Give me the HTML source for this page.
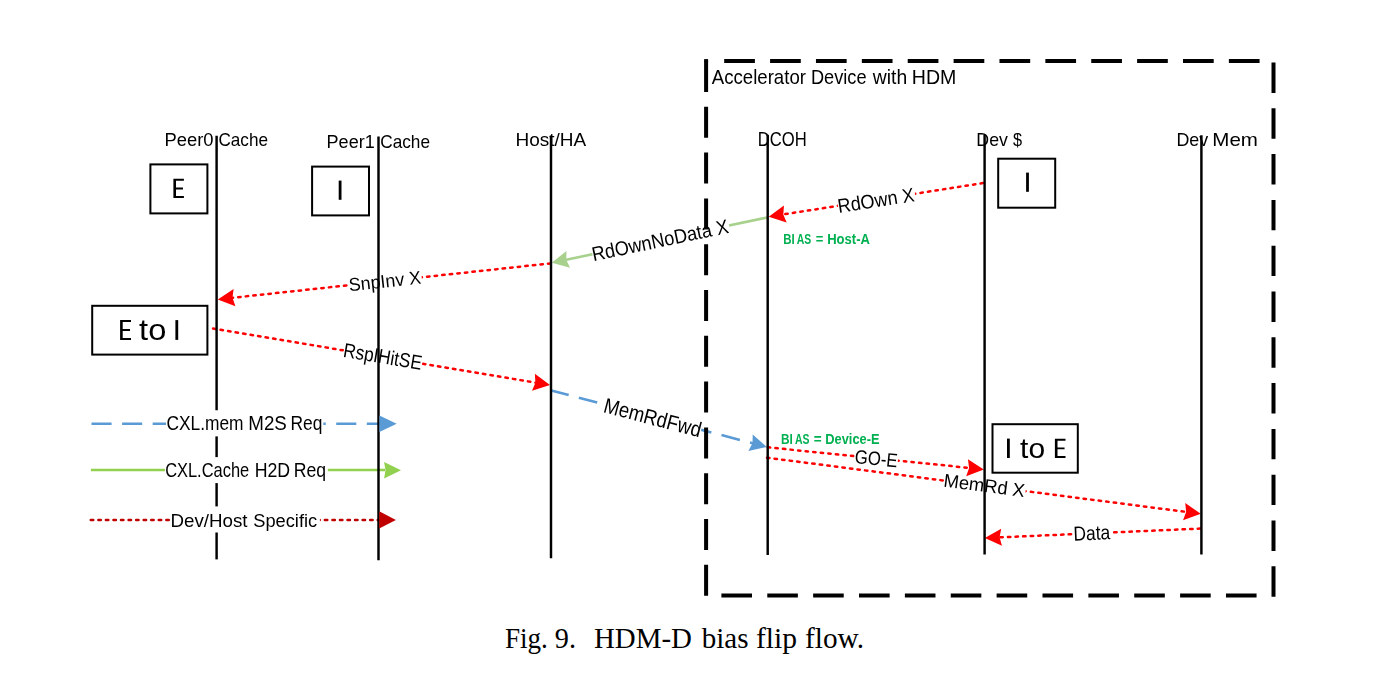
<!DOCTYPE html>
<html><head><meta charset="utf-8"><title>HDM-D bias flip flow</title>
<style>html,body{margin:0;padding:0;background:#fff;overflow:hidden;} svg{display:block;} svg.d{will-change:transform;}</style>
</head><body>
<svg class="d" width="1378" height="608" viewBox="0 0 1378 608">
<rect x="0" y="0" width="1378" height="676" fill="#fff"/>
<line x1="982.90" y1="183.10" x2="778.58" y2="215.15" stroke="#FF0000" stroke-width="2.5" stroke-dasharray="2.45 5.15" stroke-linecap="round"/>
<line x1="767.30" y1="217.50" x2="561.59" y2="260.74" stroke="#A9D18E" stroke-width="2.6"/>
<line x1="550.40" y1="263.40" x2="227.74" y2="298.32" stroke="#FF0000" stroke-width="2.5" stroke-dasharray="2.45 5.15" stroke-linecap="round"/>
<line x1="213.10" y1="328.50" x2="540.14" y2="383.44" stroke="#FF0000" stroke-width="2.5" stroke-dasharray="2.45 5.15" stroke-linecap="round"/>
<line x1="550.30" y1="390.20" x2="757.13" y2="444.46" stroke="#5B9BD5" stroke-width="2.6" stroke-dasharray="19 10.5"/>
<line x1="767.80" y1="447.30" x2="973.85" y2="468.38" stroke="#FF0000" stroke-width="2.5" stroke-dasharray="2.45 5.15" stroke-linecap="round"/>
<line x1="767.00" y1="457.70" x2="1190.88" y2="512.52" stroke="#FF0000" stroke-width="2.5" stroke-dasharray="2.45 5.15" stroke-linecap="round"/>
<line x1="1200.20" y1="528.60" x2="994.79" y2="537.56" stroke="#FF0000" stroke-width="2.5" stroke-dasharray="2.45 5.15" stroke-linecap="round"/>
<g transform="translate(876.50,200.00) rotate(-8.915)"><rect x="-38.94" y="-7" width="77.89" height="14" fill="#fff"/></g>
<g transform="translate(876.50,200.00) rotate(-8.915)"><text font-family="'Liberation Sans', sans-serif" font-size="19.737" x="-1.542" y="0" transform="translate(-37.945,7.093) scale(0.9176,1)">RdOwn X</text></g>
<g transform="translate(660.75,239.75) rotate(-11.871)"><rect x="-69.83" y="-7" width="139.66" height="14" fill="#fff"/></g>
<g transform="translate(660.75,239.75) rotate(-11.871)"><text font-family="'Liberation Sans', sans-serif" font-size="20.080" x="-1.569" y="0" transform="translate(-68.831,7.216) scale(0.9043,1)">RdOwnNoData X</text></g>
<g transform="translate(385.25,283.00) rotate(-6.178)"><rect x="-36.84" y="-7" width="73.68" height="14" fill="#fff"/></g>
<g transform="translate(385.25,283.00) rotate(-6.178)"><text font-family="'Liberation Sans', sans-serif" font-size="18.455" x="-0.577" y="0" transform="translate(-35.842,4.469) scale(0.9672,1)">SnpInv X</text></g>
<g transform="translate(382.75,358.25) rotate(9.537)"><rect x="-39.65" y="-7" width="79.30" height="14" fill="#fff"/></g>
<g transform="translate(382.75,358.25) rotate(9.537)"><text font-family="'Liberation Sans', sans-serif" font-size="20.158" x="-1.575" y="0" transform="translate(-38.652,5.197) scale(0.8537,1)">RspIHitSE</text></g>
<g transform="translate(653.00,417.25) rotate(14.701)"><rect x="-49.78" y="-7" width="99.57" height="14" fill="#fff"/></g>
<g transform="translate(653.00,417.25) rotate(14.701)"><text font-family="'Liberation Sans', sans-serif" font-size="21.395" x="-1.672" y="0" transform="translate(-48.784,7.689) scale(0.8677,1)">MemRdFwd</text></g>
<g transform="translate(876.25,458.50) rotate(5.842)"><rect x="-21.73" y="-7" width="43.46" height="14" fill="#fff"/></g>
<g transform="translate(876.25,458.50) rotate(5.842)"><text font-family="'Liberation Sans', sans-serif" font-size="19.365" x="-0.908" y="0" transform="translate(-20.730,6.657) scale(0.8679,1)">GO-E</text></g>
<g transform="translate(985.00,485.25) rotate(7.369)"><rect x="-41.03" y="-7" width="82.06" height="14" fill="#fff"/></g>
<g transform="translate(985.00,485.25) rotate(7.369)"><text font-family="'Liberation Sans', sans-serif" font-size="18.643" x="-1.456" y="0" transform="translate(-40.028,6.700) scale(0.9857,1)">MemRd X</text></g>
<g transform="translate(1092.50,533.00) rotate(-2.446)"><rect x="-18.74" y="-7" width="37.47" height="14" fill="#fff"/></g>
<g transform="translate(1092.50,533.00) rotate(-2.446)"><text font-family="'Liberation Sans', sans-serif" font-size="20.249" x="-1.582" y="0" transform="translate(-17.736,6.961) scale(0.8585,1)">Data</text></g>
<line x1="724.2" y1="61.1" x2="1260" y2="61.1" stroke="#000" stroke-width="4" stroke-dasharray="30.7 15.18"/>
<rect x="704.1" y="59.1" width="4" height="3" fill="#000"/>
<line x1="1273.5" y1="62.5" x2="1273.5" y2="597.4" stroke="#000" stroke-width="4" stroke-dasharray="30.4 15.4"/>
<line x1="721.4" y1="595.5" x2="1256.8" y2="595.5" stroke="#000" stroke-width="4" stroke-dasharray="30.6 15.27"/>
<line x1="706.1" y1="61" x2="706.1" y2="597.4" stroke="#000" stroke-width="4" stroke-dasharray="31 14.8"/>
<polygon points="768.70,216.70 786.63,222.59 783.32,214.41 783.96,205.60" fill="#FF0000"/>
<polygon points="551.80,262.80 570.01,267.76 566.28,259.76 566.47,250.93" fill="#A9D18E"/>
<polygon points="217.80,299.40 235.43,306.14 232.51,297.81 233.58,289.04" fill="#FF0000"/>
<polygon points="550.00,385.10 534.86,373.84 535.40,382.65 532.01,390.80" fill="#FF0000"/>
<polygon points="766.80,447.00 752.73,434.42 752.48,443.24 748.37,451.06" fill="#5B9BD5"/>
<polygon points="983.80,469.40 967.96,459.13 969.08,467.89 966.21,476.25" fill="#FF0000"/>
<polygon points="1200.80,513.80 1185.24,503.12 1186.12,511.90 1183.04,520.17" fill="#FF0000"/>
<polygon points="984.80,538.00 1001.96,545.86 999.59,537.35 1001.21,528.68" fill="#FF0000"/>
<line x1="91.5" y1="423.7" x2="381" y2="423.7" stroke="#5B9BD5" stroke-width="2.5" stroke-dasharray="20.1 10.49"/>
<line x1="90.9" y1="470.1" x2="385" y2="470.1" stroke="#92D050" stroke-width="2.5"/>
<line x1="90.8" y1="520" x2="380" y2="520" stroke="#C00000" stroke-width="2.5" stroke-dasharray="2.45 5.1" stroke-linecap="round"/>
<rect x="166" y="410.3" width="157.3" height="26.1" fill="#fff"/>
<rect x="164.9" y="457.1" width="162.9" height="26" fill="#fff"/>
<rect x="171" y="506.4" width="148.9" height="26.1" fill="#fff"/>
<line x1="216.6" y1="135.8" x2="216.6" y2="410.3" stroke="#000" stroke-width="2.45"/>
<line x1="216.6" y1="436.4" x2="216.6" y2="457.1" stroke="#000" stroke-width="2.45"/>
<line x1="216.6" y1="483.1" x2="216.6" y2="506.4" stroke="#000" stroke-width="2.45"/>
<line x1="216.6" y1="532.5" x2="216.6" y2="559.4" stroke="#000" stroke-width="2.45"/>
<line x1="378.5" y1="136.6" x2="378.5" y2="560.3" stroke="#000" stroke-width="2.45"/>
<line x1="551.0" y1="135.5" x2="551.0" y2="558.2" stroke="#000" stroke-width="2.45"/>
<line x1="767.7" y1="134.8" x2="767.7" y2="555.0" stroke="#000" stroke-width="2.45"/>
<line x1="984.6" y1="134.8" x2="984.6" y2="554.5" stroke="#000" stroke-width="2.45"/>
<line x1="1201.4" y1="135.2" x2="1201.4" y2="554.5" stroke="#000" stroke-width="2.45"/>
<polygon points="396.7,423.7 379.4,415.5 379.4,431.9" fill="#5B9BD5"/>
<polygon points="401,470.2 384.1,462 385.5,470.2 384.1,478.6" fill="#92D050"/>
<polygon points="395.9,520 379.2,511.3 379.2,528.6" fill="#C00000"/>
<rect x="150.40" y="164.40" width="57.00" height="49.00" fill="#fff" stroke="#000" stroke-width="2"/>
<rect x="312.10" y="166.60" width="56.90" height="48.80" fill="#fff" stroke="#000" stroke-width="2"/>
<rect x="998.20" y="158.70" width="57.00" height="49.00" fill="#fff" stroke="#000" stroke-width="2"/>
<rect x="92.20" y="305.80" width="115.20" height="48.80" fill="#fff" stroke="#000" stroke-width="2"/>
<rect x="992.50" y="424.20" width="85.30" height="48.50" fill="#fff" stroke="#000" stroke-width="2"/>
<path d="M173.40,178.80H183.90V180.75H176.00V187.43H182.96V189.38H176.00V196.05H183.90V198.00H173.40Z" fill="#000"/>
<rect x="338.70" y="180.60" width="2.80" height="19.20" fill="#000"/>
<rect x="1026.10" y="172.60" width="2.80" height="19.20" fill="#000"/>
<path d="M120.10,320.10H131.00V322.05H122.70V329.02H130.02V330.98H122.70V337.95H131.00V339.90H120.10Z" fill="#000"/>
<rect x="175.40" y="320.10" width="2.80" height="19.80" fill="#000"/>
<rect x="1007.00" y="438.60" width="2.80" height="19.40" fill="#000"/>
<path d="M1054.90,438.80H1065.50V440.75H1057.50V447.38H1064.55V449.33H1057.50V455.95H1065.50V457.90H1054.90Z" fill="#000"/>
<text font-family="'Liberation Sans', sans-serif" font-size="19.33" fill="#000" x="0.00" y="0" transform="translate(711.80,83.80) scale(0.9634,1)" xml:space="preserve">Accelerator</text>
<text font-family="'Liberation Sans', sans-serif" font-size="19.33" fill="#000" x="-1.51" y="0" transform="translate(812.30,83.80) scale(0.9420,1)" xml:space="preserve">Device</text>
<text font-family="'Liberation Sans', sans-serif" font-size="19.33" fill="#000" x="0.30" y="0" transform="translate(872.50,83.80) scale(1.0002,1)" xml:space="preserve">with</text>
<text font-family="'Liberation Sans', sans-serif" font-size="19.33" fill="#000" x="-1.51" y="0" transform="translate(913.30,83.80) scale(1.0143,1)" xml:space="preserve">HDM</text>
<text font-family="'Liberation Sans', sans-serif" font-size="18.75" fill="#000" x="-1.46" y="0" transform="translate(165.90,145.90) scale(0.9813,1)" xml:space="preserve">Peer0</text>
<text font-family="'Liberation Sans', sans-serif" font-size="18.75" fill="#000" x="-0.88" y="0" transform="translate(219.20,145.90) scale(0.9151,1)" xml:space="preserve">Cache</text>
<text font-family="'Liberation Sans', sans-serif" font-size="19.04" fill="#000" x="-1.49" y="0" transform="translate(328.00,147.90) scale(0.9475,1)" xml:space="preserve">Peer1</text>
<text font-family="'Liberation Sans', sans-serif" font-size="19.04" fill="#000" x="-0.89" y="0" transform="translate(381.00,147.90) scale(0.9049,1)" xml:space="preserve">Cache</text>
<text font-family="'Liberation Sans', sans-serif" font-size="19.19" fill="#000" x="-1.50" y="0" transform="translate(516.90,145.90) scale(0.9896,1)" xml:space="preserve">Host/HA</text>
<text font-family="'Liberation Sans', sans-serif" font-size="19.33" fill="#000" x="-1.51" y="0" transform="translate(759.10,145.90) scale(0.8619,1)" xml:space="preserve">DCOH</text>
<text font-family="'Liberation Sans', sans-serif" font-size="19.04" fill="#000" x="-1.49" y="0" transform="translate(977.70,145.80) scale(0.9329,1)" xml:space="preserve">Dev</text>
<text font-family="'Liberation Sans', sans-serif" font-size="19.04" fill="#000" x="0.00" y="0" transform="translate(1013.10,145.80) scale(0.8547,1)" xml:space="preserve">$</text>
<text font-family="'Liberation Sans', sans-serif" font-size="19.04" fill="#000" x="-1.49" y="0" transform="translate(1177.80,145.60) scale(0.9391,1)" xml:space="preserve">Dev</text>
<text font-family="'Liberation Sans', sans-serif" font-size="19.04" fill="#000" x="-1.49" y="0" transform="translate(1213.90,145.60) scale(1.0794,1)" xml:space="preserve">Mem</text>
<text font-family="'Liberation Sans', sans-serif" font-size="28.78" fill="#000" x="0.00" y="0" transform="translate(139.10,339.90) scale(1.1342,1)" xml:space="preserve">to</text>
<text font-family="'Liberation Sans', sans-serif" font-size="28.05" fill="#000" x="0.00" y="0" transform="translate(1020.10,458.00) scale(1.0693,1)" xml:space="preserve">to</text>
<text font-family="'Liberation Sans', sans-serif" font-weight="bold" font-size="14.24" fill="#00B050" x="-0.89" y="0" transform="translate(783.90,243.70) scale(0.8072,1)" xml:space="preserve">BI</text>
<text font-family="'Liberation Sans', sans-serif" font-weight="bold" font-size="14.24" fill="#00B050" x="-0.22" y="0" transform="translate(796.80,243.70) scale(0.7348,1)" xml:space="preserve">AS</text>
<text font-family="'Liberation Sans', sans-serif" font-weight="bold" font-size="14.24" fill="#00B050" x="-0.45" y="0" transform="translate(816.20,243.70) scale(0.9122,1)" xml:space="preserve">=</text>
<text font-family="'Liberation Sans', sans-serif" font-weight="bold" font-size="14.24" fill="#00B050" x="-0.89" y="0" transform="translate(828.00,243.70) scale(0.9160,1)" xml:space="preserve">Host-A</text>
<text font-family="'Liberation Sans', sans-serif" font-weight="bold" font-size="13.81" fill="#00B050" x="-0.86" y="0" transform="translate(781.80,443.70) scale(0.8574,1)" xml:space="preserve">BI</text>
<text font-family="'Liberation Sans', sans-serif" font-weight="bold" font-size="13.81" fill="#00B050" x="-0.22" y="0" transform="translate(795.10,443.70) scale(0.7580,1)" xml:space="preserve">AS</text>
<text font-family="'Liberation Sans', sans-serif" font-weight="bold" font-size="13.81" fill="#00B050" x="-0.43" y="0" transform="translate(814.10,443.70) scale(0.9832,1)" xml:space="preserve">=</text>
<text font-family="'Liberation Sans', sans-serif" font-weight="bold" font-size="13.81" fill="#00B050" x="-0.86" y="0" transform="translate(826.10,443.70) scale(0.9298,1)" xml:space="preserve">Device-E</text>
<text font-family="'Liberation Sans', sans-serif" font-size="19.77" fill="#000" x="-0.93" y="0" transform="translate(167.20,430.20) scale(0.8787,1)" xml:space="preserve">CXL.mem</text>
<text font-family="'Liberation Sans', sans-serif" font-size="19.77" fill="#000" x="-1.54" y="0" transform="translate(249.80,430.20) scale(0.9485,1)" xml:space="preserve">M2S</text>
<text font-family="'Liberation Sans', sans-serif" font-size="19.77" fill="#000" x="-1.54" y="0" transform="translate(291.80,430.20) scale(0.8807,1)" xml:space="preserve">Req</text>
<text font-family="'Liberation Sans', sans-serif" font-size="19.77" fill="#000" x="-0.93" y="0" transform="translate(165.90,477.20) scale(0.8323,1)" xml:space="preserve">CXL.Cache</text>
<text font-family="'Liberation Sans', sans-serif" font-size="19.77" fill="#000" x="-1.54" y="0" transform="translate(256.00,477.20) scale(0.8978,1)" xml:space="preserve">H2D</text>
<text font-family="'Liberation Sans', sans-serif" font-size="19.77" fill="#000" x="-1.54" y="0" transform="translate(295.10,477.20) scale(0.8926,1)" xml:space="preserve">Req</text>
<text font-family="'Liberation Sans', sans-serif" font-size="18.60" fill="#000" x="-1.45" y="0" transform="translate(172.00,526.50) scale(1.0077,1)" xml:space="preserve">Dev/Host</text>
<text font-family="'Liberation Sans', sans-serif" font-size="18.60" fill="#000" x="-0.58" y="0" transform="translate(253.80,526.50) scale(0.9818,1)" xml:space="preserve">Specific</text>
</svg>
<svg class="c" width="1378" height="68" viewBox="0 608 1378 68">
<rect x="0" y="608" width="1378" height="68" fill="#fff"/>
<text font-family="'Liberation Serif', serif" font-size="29.77" fill="#000" x="-0.47" y="0" transform="translate(505.40,648.00) scale(0.9101,1)" xml:space="preserve">Fig.</text>
<text font-family="'Liberation Serif', serif" font-size="29.77" fill="#000" x="-0.93" y="0" transform="translate(555.70,648.00) scale(0.9469,1)" xml:space="preserve">9.</text>
<text font-family="'Liberation Serif', serif" font-size="29.77" fill="#000" x="-0.47" y="0" transform="translate(594.40,648.00) scale(0.9720,1)" xml:space="preserve">HDM-D</text>
<text font-family="'Liberation Serif', serif" font-size="29.77" fill="#000" x="0.00" y="0" transform="translate(701.80,648.00) scale(0.9752,1)" xml:space="preserve">bias</text>
<text font-family="'Liberation Serif', serif" font-size="29.77" fill="#000" x="-0.47" y="0" transform="translate(756.40,648.00) scale(0.9913,1)" xml:space="preserve">flip</text>
<text font-family="'Liberation Serif', serif" font-size="29.77" fill="#000" x="-0.47" y="0" transform="translate(805.50,648.00) scale(0.9835,1)" xml:space="preserve">flow.</text>
</svg>
</body></html>
